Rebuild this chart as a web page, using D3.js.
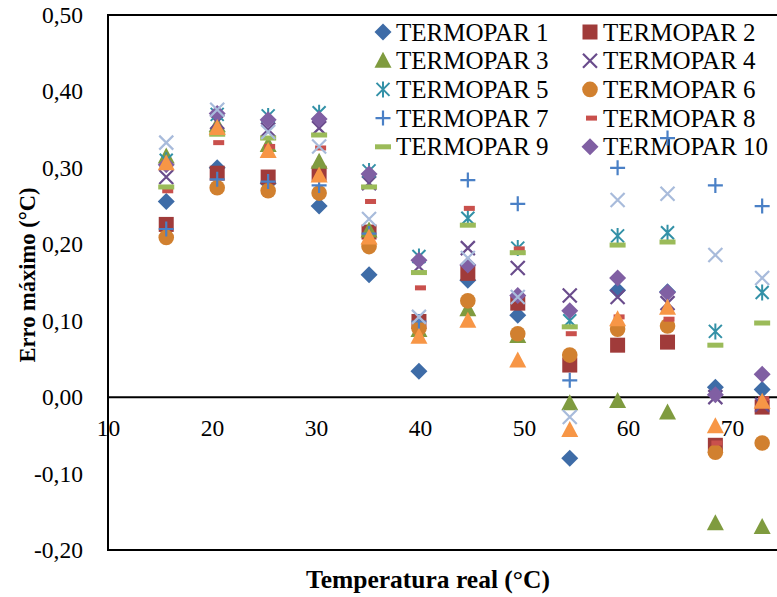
<!DOCTYPE html>
<html>
<head>
<meta charset="utf-8">
<script src="https://cdn.jsdelivr.net/npm/d3@7"></script>
<style>
  html, body { margin: 0; padding: 0; background: #fff; }
  svg { display: block; }
</style>
</head>
<body>
<svg id="chart" width="777" height="597"></svg>
<script>
// Measured temperature for each reading (°C)
const temperatures = [15.6, 20.5, 25.4, 30.3, 35.1, 39.9, 44.6, 49.4, 54.4, 59.0, 63.8, 68.4, 72.9];

// Maximum error per thermocouple (°C)
const termopar1  = [0.256, 0.300, 0.280, 0.250, 0.160, 0.034, 0.153, 0.107, -0.080, 0.140, 0.138, 0.013, 0.010];
const termopar2  = [0.226, 0.293, 0.288, 0.293, 0.216, 0.099, 0.162, 0.123, 0.042, 0.068, 0.072, -0.063, -0.013];
const termopar3  = [0.315, 0.356, 0.330, 0.308, 0.218, 0.088, 0.115, 0.080, -0.008, -0.005, -0.020, -0.165, -0.170];
const termopar4  = [0.288, 0.360, 0.350, 0.352, 0.280, 0.171, 0.195, 0.169, 0.133, 0.131, 0.123, 0.000, -0.010];
const termopar5  = [0.310, 0.370, 0.368, 0.372, 0.296, 0.184, 0.234, 0.195, 0.100, 0.211, 0.215, 0.086, 0.137];
const termopar6  = [0.209, 0.274, 0.270, 0.267, 0.197, 0.090, 0.126, 0.083, 0.055, 0.089, 0.093, -0.072, -0.060];
const termopar7  = [0.220, 0.285, 0.282, 0.277, 0.214, 0.099, 0.284, 0.253, 0.022, 0.300, 0.339, 0.277, 0.250];
const termopar8  = [0.270, 0.333, 0.328, 0.326, 0.256, 0.143, 0.247, 0.194, 0.083, 0.105, 0.102, -0.060, -0.002];
const termopar9  = [0.275, 0.344, 0.339, 0.343, 0.275, 0.163, 0.225, 0.189, 0.092, 0.199, 0.203, 0.068, 0.097];
const termopar10 = [0.304, 0.371, 0.363, 0.364, 0.292, 0.179, 0.173, 0.133, 0.113, 0.156, 0.137, 0.003, 0.030];
const termopar11 = [0.333, 0.376, 0.347, 0.328, 0.233, 0.105, 0.182, 0.131, -0.026, 0.258, 0.266, 0.186, 0.156];
const termopar12 = [0.306, 0.352, 0.322, 0.290, 0.209, 0.079, 0.100, 0.048, -0.043, 0.102, 0.117, -0.038, -0.006];

// Legend entries (the first ten series)
const legendNames = ["TERMOPAR 1", "TERMOPAR 2", "TERMOPAR 3", "TERMOPAR 4", "TERMOPAR 5",
                     "TERMOPAR 6", "TERMOPAR 7", "TERMOPAR 8", "TERMOPAR 9", "TERMOPAR 10"];

// Axis ticks
const xTicks = [10, 20, 30, 40, 50, 60, 70];
const yTicks = [-0.2, -0.1, 0, 0.1, 0.2, 0.3, 0.4, 0.5];

const seriesValues = [termopar1, termopar2, termopar3, termopar4, termopar5, termopar6,
                      termopar7, termopar8, termopar9, termopar10, termopar11, termopar12];

// Marker style for each series
const styles = [
  { shape: "diamond",  color: "#3E6CA7" },
  { shape: "square",   color: "#A03B3A" },
  { shape: "triangle", color: "#7F9B3F" },
  { shape: "xmark",    color: "#6A4C8C" },
  { shape: "asterisk", color: "#3391A7" },
  { shape: "circle",   color: "#D1802F" },
  { shape: "plus",     color: "#4A80C6" },
  { shape: "dashS",    color: "#C9504C" },
  { shape: "dashL",    color: "#9BBB59" },
  { shape: "diamond",  color: "#805FA3" },
  { shape: "xmark",    color: "#A8BBDB" },
  { shape: "triangle", color: "#F79646" }
];

const FONT = "'Liberation Serif', 'Times New Roman', Tinos, 'DejaVu Serif', serif";

const svg = d3.select("#chart");
const plot = { left: 108, top: 15, bottom: 550, right: 836 };

const x = d3.scaleLinear().domain([10, 80]).range([plot.left, plot.right]);
const y = d3.scaleLinear().domain([-0.2, 0.5]).range([plot.bottom, plot.top]);

// Decimal comma and a plain hyphen for negatives
const ptFormat = d3.formatLocale({ decimal: ",", thousands: ".", grouping: [3], currency: ["R$", ""], minus: "-" }).format(".2f");

// Y axis labels
const yAxis = d3.axisLeft(y).tickValues(yTicks).tickSize(0).tickPadding(25).tickFormat(ptFormat);
const gy = svg.append("g").attr("transform", `translate(${plot.left},0)`).call(yAxis);
gy.select(".domain").remove();
gy.selectAll("text").style("font-family", FONT).style("font-size", "23.5px").attr("fill", "#000");

// X axis labels (axis crosses at zero)
const xAxis = d3.axisBottom(x).tickValues(xTicks).tickSize(0).tickPadding(22).tickFormat(d3.format("d"));
const gx = svg.append("g").attr("transform", `translate(0,${y(0)})`).call(xAxis);
gx.select(".domain").remove();
gx.selectAll("text").style("font-family", FONT).style("font-size", "23.5px").attr("fill", "#000");

// Plot frame and zero line
svg.append("rect")
  .attr("x", plot.left).attr("y", plot.top)
  .attr("width", plot.right - plot.left).attr("height", plot.bottom - plot.top)
  .attr("fill", "none").attr("stroke", "#000").attr("stroke-width", 2);
svg.append("line")
  .attr("x1", plot.left).attr("x2", plot.right)
  .attr("y1", y(0)).attr("y2", y(0))
  .attr("stroke", "#000").attr("stroke-width", 2);

// Axis titles
svg.append("text")
  .attr("x", 428).attr("y", 588)
  .attr("text-anchor", "middle")
  .style("font-family", FONT).style("font-weight", "bold").style("font-size", "25.5px")
  .text("Temperatura real (°C)");
svg.append("text")
  .attr("transform", "translate(35,275) rotate(-90)")
  .attr("text-anchor", "middle")
  .style("font-family", FONT).style("font-weight", "bold").style("font-size", "22.5px")
  .text("Erro máximo (°C)");

// Draws one marker into a group centred at (0,0)
function drawMarker(g, shape, color) {
  switch (shape) {
    case "diamond":
      g.append("path").attr("d", "M0,-8.5L8.5,0L0,8.5L-8.5,0Z").attr("fill", color);
      break;
    case "square":
      g.append("rect").attr("x", -7.5).attr("y", -7.5).attr("width", 15).attr("height", 15).attr("fill", color);
      break;
    case "triangle":
      g.append("path").attr("d", "M0,-9L8.5,7L-8.5,7Z").attr("fill", color);
      break;
    case "circle":
      g.append("circle").attr("r", 7.8).attr("fill", color);
      break;
    case "xmark":
      g.append("path").attr("d", "M-7,-7L7,7M-7,7L7,-7").attr("stroke", color).attr("stroke-width", 2.2).attr("fill", "none");
      break;
    case "asterisk":
      g.append("path").attr("d", "M-6.5,-6.5L6.5,6.5M-6.5,6.5L6.5,-6.5M0,-8L0,8").attr("stroke", color).attr("stroke-width", 2).attr("fill", "none");
      break;
    case "plus":
      g.append("path").attr("d", "M-7.5,0L7.5,0M0,-7.5L0,7.5").attr("stroke", color).attr("stroke-width", 2.2).attr("fill", "none");
      break;
    case "dashS":
      g.append("rect").attr("x", -4).attr("y", -2.5).attr("width", 11).attr("height", 5).attr("fill", color);
      break;
    case "dashL":
      g.append("rect").attr("x", -8).attr("y", -2.5).attr("width", 16).attr("height", 5).attr("fill", color);
      break;
  }
}

// Legend: two columns, five rows
const legend = svg.append("g");
legendNames.forEach((name, i) => {
  const col = i % 2, row = Math.floor(i / 2);
  const lx = col === 0 ? 383 : 590;
  const ly = 32 + row * 28.7;
  const mg = legend.append("g").attr("transform", `translate(${lx},${ly})`);
  drawMarker(mg, styles[i].shape, styles[i].color);
  legend.append("text")
    .attr("x", lx + 13).attr("y", ly + 8.5)
    .style("font-family", FONT).style("font-size", "25px")
    .text(name);
});

// Data markers, series in order so later ones sit on top
seriesValues.forEach((vals, si) => {
  const g = svg.append("g");
  vals.forEach((v, i) => {
    const mg = g.append("g").attr("transform", `translate(${x(temperatures[i])},${y(v)})`);
    drawMarker(mg, styles[si].shape, styles[si].color);
  });
});
</script>
</body>
</html>
